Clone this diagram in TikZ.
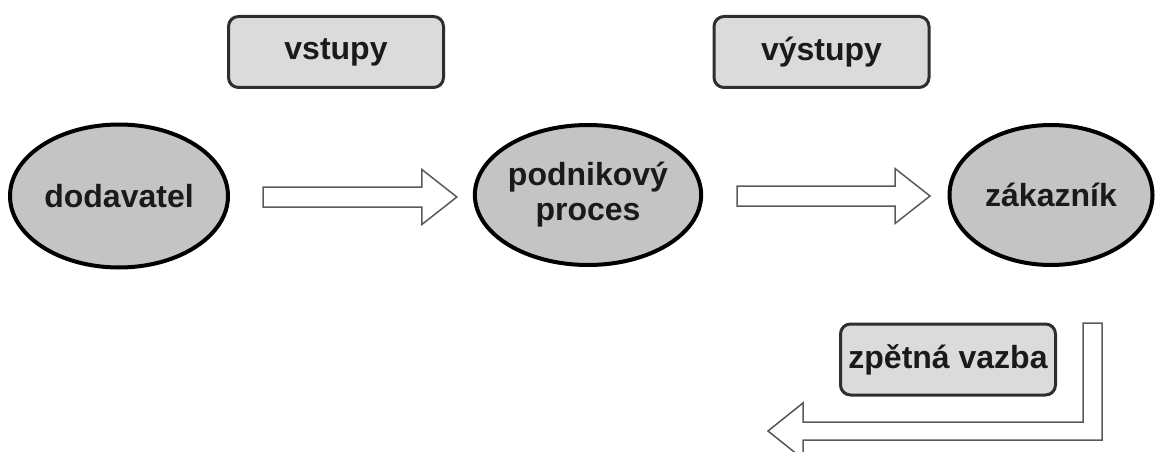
\documentclass[tikz,border=0pt]{standalone}
\usepackage{fontspec}
\setmainfont{Liberation Sans}
\usetikzlibrary{shapes.geometric,calc}
\definecolor{ovalfill}{HTML}{C4C4C4}
\definecolor{boxfill}{HTML}{DBDBDB}
\definecolor{boxline}{HTML}{2E2E2E}
\definecolor{arrowline}{HTML}{5A5A5A}
\definecolor{ink}{HTML}{1A1A1A}

% hollow block arrow from #1 (tail centre) to #2 (tip)
\newcommand\blockarrow[2]{%
  \draw[hollow] let \p1=(#1), \p2=(#2) in
    (\x1,\y1+10pt) -- (\x2-35pt,\y1+10pt) -- (\x2-35pt,\y1+27.5pt) --
    (\x2,\y1) -- (\x2-35pt,\y1-27.5pt) -- (\x2-35pt,\y1-10pt) --
    (\x1,\y1-10pt) -- cycle;}

\begin{document}
\begin{tikzpicture}[x=1pt,y=-1pt,
  labelfont/.style={font=\fontsize{32}{35}\selectfont\bfseries, text=ink},
  oval/.style={ellipse, draw=black, line width=4pt, fill=ovalfill,
    inner sep=0pt, align=center, labelfont},
  tag/.style={rectangle, draw=boxline, line width=3pt, fill=boxfill,
    rounded corners=10pt, minimum width=215pt, minimum height=71pt,
    inner sep=0pt, labelfont},
  hollow/.style={draw=arrowline, line width=1.5pt, fill=white, line join=miter}]

\useasboundingbox (0,0) rectangle (1157,452);
\clip (0,0) rectangle (1157,452);

% process chain
\node[oval, minimum width=218pt, minimum height=143pt] (dod) at (119,196) {dodavatel};
\node[oval, minimum width=216pt, minimum height=140pt] (proc) at (588,195) {podnikový\\proces};
\node[oval, minimum width=203pt, minimum height=140pt] (zak) at (1051,195) {zákazník};

% labels
\node[tag] (in)  at (336,52)    {vstupy};
\node[tag] (out) at (821.5,52)  {výstupy};
\node[tag] (fb)  at (948,359.5) {zpětná vazba};

% flow arrows between the ovals
\path (dod.east)  ++(33,1)    coordinate (a1s);
\path (proc.west) ++(-16,1)   coordinate (a1t);
\path (proc.east) ++(34,1)    coordinate (a2s);
\path (zak.west)  ++(-17.5,1) coordinate (a2t);
\blockarrow{a1s}{a1t}
\blockarrow{a2s}{a2t}

% feedback arrow: down from the customer, then back to the left
\path (zak.south) ++(41.5,56) coordinate (fbtop);
\coordinate (fbtip) at (768,431);
\draw[hollow] let \p1=(fbtop), \p2=(fbtip) in
  (\x1-9.5pt,\y1) -- (\x1+9.5pt,\y1) -- (\x1+9.5pt,\y2-9pt) --
  (\x2+35pt,\y2-9pt) -- (\x2+35pt,\y2-28pt) -- (\x2,\y2) --
  (\x2+35pt,\y2+28pt) -- (\x2+35pt,\y2+9pt) -- (\x1-9.5pt,\y2+9pt) -- cycle;
\end{tikzpicture}
\end{document}
